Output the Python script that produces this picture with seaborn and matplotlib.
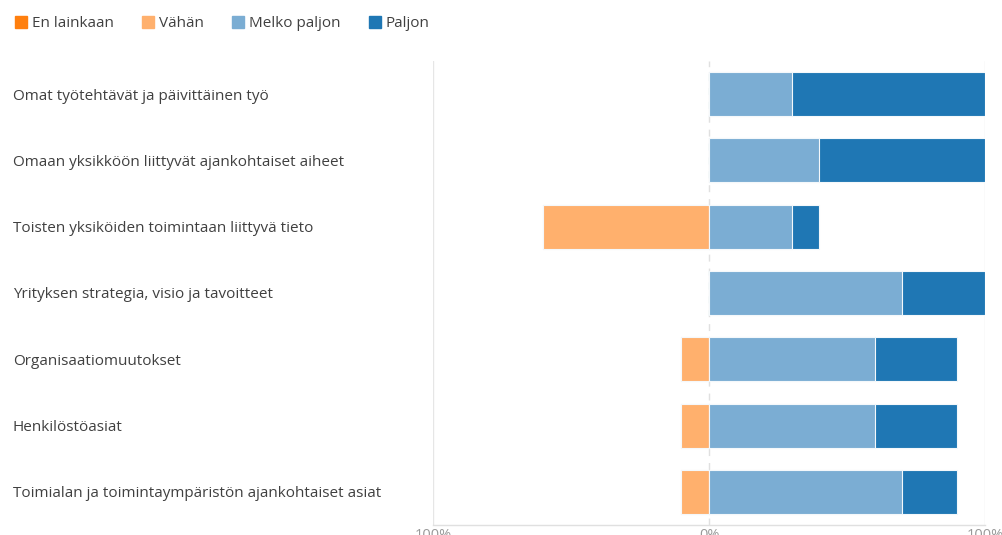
import matplotlib
matplotlib.use("Agg")
import matplotlib.pyplot as plt
from matplotlib.lines import Line2D
import seaborn as sns
import pandas as pd
import numpy as np

# Survey responses (% of respondents) per topic
topics = [
    "Omat työtehtävät ja päivittäinen työ",
    "Omaan yksikköön liittyvät ajankohtaiset aiheet",
    "Toisten yksiköiden toimintaan liittyvä tieto",
    "Yrityksen strategia, visio ja tavoitteet",
    "Organisaatiomuutokset",
    "Henkilöstöasiat",
    "Toimialan ja toimintaympäristön ajankohtaiset asiat",
]
en_lainkaan = [0, 0, 0, 0, 0, 0, 0]
vahan = [0, 0, 60, 0, 10, 10, 10]
melko_paljon = [30, 40, 30, 70, 60, 60, 70]
paljon = [70, 60, 10, 30, 30, 30, 20]

series_names = ["En lainkaan", "Vähän", "Melko paljon", "Paljon"]
colors = ["#ff7f0e", "#ffb06d", "#7badd3", "#1f77b4"]
tick_positions = [-100, 0, 100]
tick_labels = ["100%", "0%", "100%"]

df = pd.DataFrame({
    "topic": topics,
    "En lainkaan": en_lainkaan,
    "Vähän": vahan,
    "Melko paljon": melko_paljon,
    "Paljon": paljon,
})
# Diverging stack: negative answers go left of zero, positive ones right
df["neg_outer"] = -(df["Vähän"] + df["En lainkaan"])
df["neg_inner"] = -df["Vähän"]
df["pos_outer"] = df["Melko paljon"] + df["Paljon"]
df["pos_inner"] = df["Melko paljon"]

sns.set_theme(style="white")
plt.rcParams["font.family"] = ["Open Sans", "DejaVu Sans"]

fig = plt.figure(figsize=(10.03, 5.35), dpi=100)
ax = fig.add_axes([433 / 1003, 10 / 535, (985 - 433) / 1003, (525 - 61) / 535])

bar_kw = dict(y="topic", orient="h", width=0.665, edgecolor="#f4f8fb",
              linewidth=0.8, saturation=1, ax=ax, zorder=3)
sns.barplot(data=df, x="neg_outer", color=colors[0], **bar_kw)
sns.barplot(data=df, x="neg_inner", color=colors[1], **bar_kw)
sns.barplot(data=df, x="pos_outer", color=colors[3], **bar_kw)
sns.barplot(data=df, x="pos_inner", color=colors[2], **bar_kw)

ax.set_xlim(-100, 100)
ax.set_ylim(6.5, -0.5)
ax.set_xlabel("")
ax.set_ylabel("")

# Guides
for xv in (-100, 100):
    ax.axvline(xv, color="#e6e6e6", linewidth=1, zorder=1)
ax.axvline(0, color="#e0e0e0", linewidth=1, linestyle=(0, (5, 5)), zorder=1)

for side in ("top", "right", "left"):
    ax.spines[side].set_visible(False)
ax.spines["bottom"].set_color("#e0e0e0")
ax.spines["bottom"].set_linewidth(1)

ax.set_xticks(tick_positions)
ax.set_xticklabels(tick_labels, color="#999999", fontsize=10.5)
ax.tick_params(axis="x", length=0, pad=2)

ax.set_yticks(range(len(topics)))
ax.set_yticklabels(topics, fontsize=11, color="#404040", ha="left")
ax.tick_params(axis="y", length=0, pad=(433 - 13) * 0.72)

handles = [Line2D([0], [0], marker="s", linestyle="", markersize=8,
                  markerfacecolor=c, markeredgecolor=c) for c in colors]
fig.legend(handles, series_names, loc="upper left", bbox_to_anchor=(0.0, 0.995),
           ncol=4, frameon=False, fontsize=11, handletextpad=0.2,
           columnspacing=1.75, handlelength=1.0, labelcolor="#404040",
           borderaxespad=0.5)

fig.savefig("out.png", dpi=100, facecolor="white")
